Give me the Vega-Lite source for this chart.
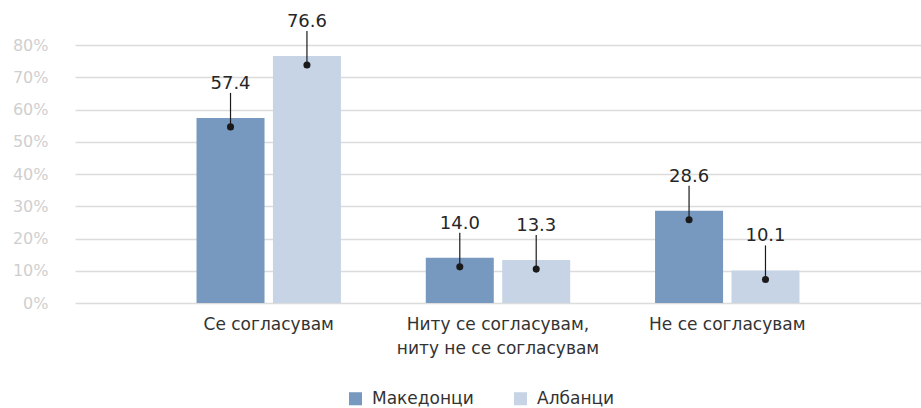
{
  "$schema": "https://vega.github.io/schema/vega-lite/v6.json",
  "autosize": {"type": "none"},
  "padding": {"left": 75, "top": 45, "right": 0, "bottom": 105},
  "width": 846,
  "height": 258,
  "background": "white",
  "config": {
    "font": "DejaVu Sans",
    "view": {"stroke": null}
  },
  "data": {
    "values": [
      {"category": "Се согласувам", "group": "Македонци", "value": 57.4},
      {"category": "Се согласувам", "group": "Албанци", "value": 76.6},
      {"category": "Ниту се согласувам, ниту не се согласувам", "group": "Македонци", "value": 14.0},
      {"category": "Ниту се согласувам, ниту не се согласувам", "group": "Албанци", "value": 13.3},
      {"category": "Не се согласувам", "group": "Македонци", "value": 28.6},
      {"category": "Не се согласувам", "group": "Албанци", "value": 10.1}
    ]
  },
  "encoding": {
    "x": {
      "field": "category",
      "type": "nominal",
      "sort": ["Се согласувам", "Ниту се согласувам, ниту не се согласувам", "Не се согласувам"],
      "scale": {"paddingInner": 0.37, "paddingOuter": 0.53},
      "axis": {
        "title": null,
        "domain": false,
        "ticks": false,
        "labelAngle": 0,
        "labelFontSize": 17,
        "labelColor": "#333333",
        "labelPadding": 13,
        "labelLineHeight": 24,
        "labelBaseline": "top",
        "labelLimit": 0,
        "labelExpr": "datum.label == 'Ниту се согласувам, ниту не се согласувам' ? ['Ниту се согласувам,', 'ниту не се согласувам'] : datum.label"
      }
    },
    "xOffset": {
      "field": "group",
      "type": "nominal",
      "sort": ["Македонци", "Албанци"],
      "scale": {"paddingInner": 0.11}
    },
    "y": {
      "field": "value",
      "type": "quantitative",
      "scale": {"domain": [0, 80], "nice": false},
      "axis": {
        "title": null,
        "values": [0, 10, 20, 30, 40, 50, 60, 70, 80],
        "labelExpr": "datum.value + '%'",
        "domain": false,
        "ticks": false,
        "labelPadding": 27,
        "labelFontSize": 16,
        "labelColor": "#cfcfcf",
        "gridColor": "#dcdcdc",
        "gridWidth": 1.5
      }
    }
  },
  "layer": [
    {
      "mark": {"type": "bar"},
      "encoding": {
        "color": {
          "field": "group",
          "type": "nominal",
          "sort": ["Македонци", "Албанци"],
          "scale": {"domain": ["Македонци", "Албанци"], "range": ["#7899bf", "#c6d4e6"]},
          "legend": {
            "title": null,
            "orient": "none",
            "legendX": 272,
            "legendY": 345,
            "direction": "horizontal",
            "symbolType": "square",
            "symbolSize": 170,
            "symbolStrokeWidth": 0,
            "labelFontSize": 17,
            "labelColor": "#333333",
            "labelOffset": 8,
            "columnPadding": 38
          }
        }
      }
    },
    {
      "mark": {"type": "rule", "color": "#1a1a1a", "strokeWidth": 1.2, "yOffset": 9, "y2Offset": -25},
      "encoding": {
        "y2": {"field": "value"}
      }
    },
    {
      "mark": {"type": "point", "filled": true, "color": "#1a1a1a", "opacity": 1, "size": 50, "yOffset": 9},
      "encoding": {}
    },
    {
      "mark": {"type": "text", "color": "#262626", "fontSize": 18, "baseline": "alphabetic", "dy": -29},
      "encoding": {
        "text": {"field": "value", "type": "quantitative", "format": ".1f"}
      }
    }
  ]
}
